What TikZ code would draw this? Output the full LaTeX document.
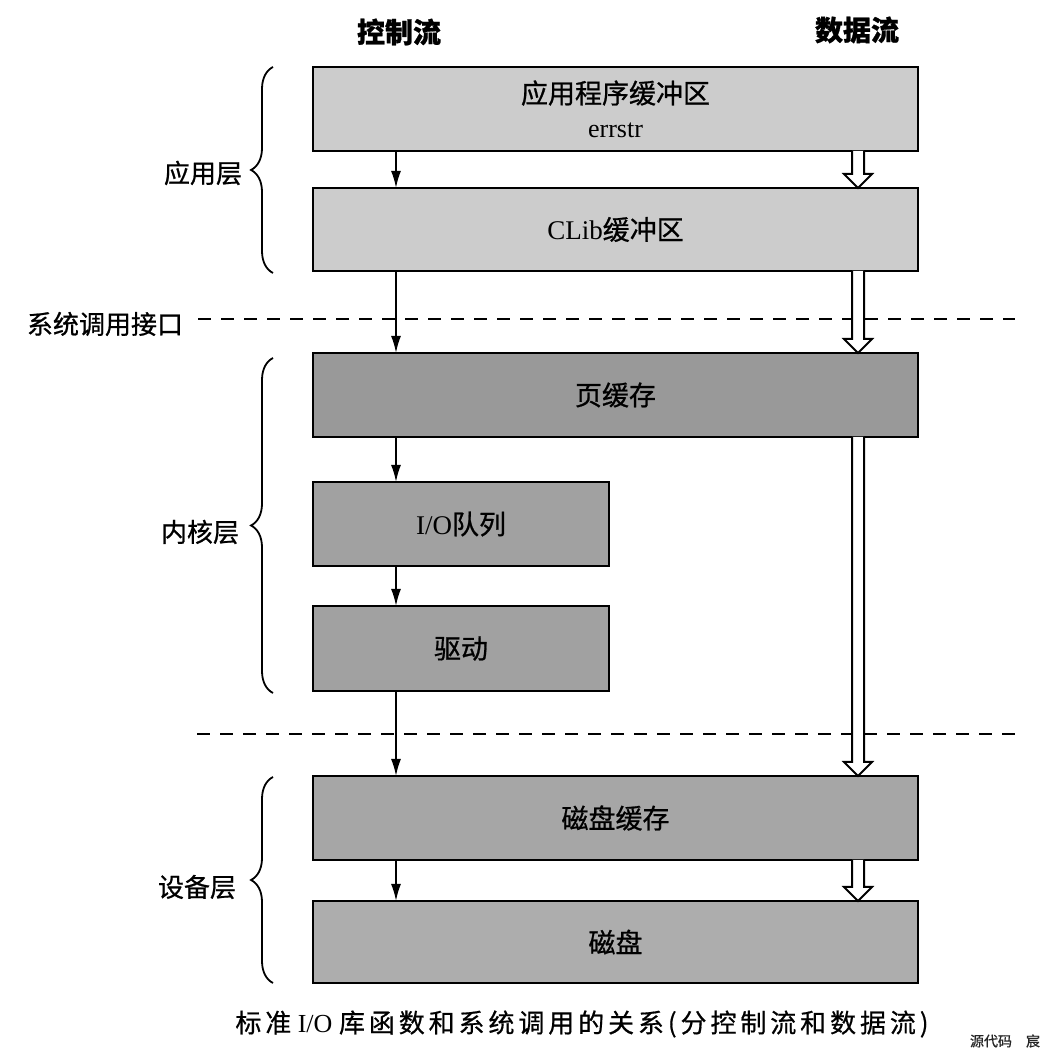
\documentclass[tikz,border=0pt]{standalone}
\usepackage{fontspec}
\setmainfont{Liberation Serif}
\newfontfamily\cjk{Noto Sans CJK SC}[FakeBold=0.8]
\newfontfamily\capfont{Noto Sans CJK SC}[LetterSpace=15,FakeBold=0.6]
\usetikzlibrary{arrows.meta,calc,decorations.pathreplacing}
\definecolor{boxA}{gray}{0.80}
\definecolor{boxB}{gray}{0.60}
\definecolor{boxC}{gray}{0.63}
\definecolor{boxD}{gray}{0.65}
\definecolor{boxE}{gray}{0.68}
\newcommand\dataflow[2]{%
  \draw[dataarr] ($(#1.south -| dx)+(-6,0)$) -- ($(#2.north -| dx)+(-6,14)$)
    -- ($(#2.north -| dx)+(-14,14)$) -- (#2.north -| dx)
    -- ($(#2.north -| dx)+(14,14)$) -- ($(#2.north -| dx)+(6,14)$)
    -- ($(#1.south -| dx)+(6,0)$);}
\begin{document}
\begin{tikzpicture}[x=1pt,y=1pt,
  box/.style={draw=black, line width=2.4pt, inner sep=0pt, outer sep=0pt,
    minimum height=84pt, align=center, font=\fontsize{27}{34}\selectfont},
  wide/.style={minimum width=605pt},
  narrow/.style={minimum width=296pt},
  ctl/.style={line width=1.8pt, -{Latex[length=17pt,width=10pt]}},
  dataarr/.style={draw=black, line width=2pt, fill=white, line join=miter},
  sepline/.style={line width=1.8pt, dash pattern=on 13pt off 10pt},
  layerbrace/.style={line width=1.8pt, decorate, decoration={brace, amplitude=22pt}},
  lbl/.style={font=\fontsize{26}{30}\selectfont\cjk},
  hdr/.style={font=\fontsize{28}{30}\selectfont\cjk\bfseries},
]
\useasboundingbox (0,0) rectangle (1056,1059);
\fill[white] (0,0) rectangle (1056,1059);

% coordinates of the two flow columns
\coordinate (cx) at (396,0);
\coordinate (dx) at (858,0);

% headers
\node[hdr] (hctl) at (399,1027) {控制流};
\node[hdr] (hdat) at (857,1029) {数据流};

% separators
\coordinate (s1l) at (198,740);
\coordinate (s1r) at (1015,740);
\coordinate (s2l) at (197,325);
\coordinate (s2r) at (1015,325);
\draw[sepline] (s1l) -- (s1r);
\draw[sepline] (s2l) -- (s2r);
\node[lbl] (s1lab) at (105,735) {系统调用接口};

% boxes
\node[box, wide, fill=boxA] (b1) at (615.5,950) {{\cjk 应用程序缓冲区}\\{\fontsize{26}{34}\selectfont errstr}};
\node[box, wide, fill=boxA, minimum height=83pt] (b2) at (615.5,829.5) {CLib{\cjk 缓冲区}};
\node[box, wide, fill=boxB] (b3) at (615.5,664) {\cjk 页缓存};
\node[box, narrow, fill=boxC] (b4) at (461,535) {I/O{\cjk 队列}};
\node[box, narrow, fill=boxC, minimum height=85pt] (b5) at (461,410.5) {\cjk 驱动};
\node[box, wide, fill=boxD] (b6) at (615.5,241) {\cjk 磁盘缓存};
\node[box, wide, fill=boxE, minimum height=82pt] (b7) at (615.5,117) {\cjk 磁盘};

% control flow
\draw[ctl] (b1.south -| cx) -- (b2.north -| cx);
\draw[ctl] (b2.south -| cx) -- (b3.north -| cx);
\draw[ctl] (b3.south -| cx) -- (b4.north -| cx);
\draw[ctl] (b4.south -| cx) -- (b5.north -| cx);
\draw[ctl] (b5.south -| cx) -- (b6.north -| cx);
\draw[ctl] (b6.south -| cx) -- (b7.north -| cx);

% data flow
\dataflow{b1}{b2}
\dataflow{b2}{b3}
\dataflow{b3}{b6}
\dataflow{b6}{b7}

% layer braces
\coordinate (br1b) at (273,786);
\coordinate (br1t) at (273,992);
\coordinate (br2b) at (273,366);
\coordinate (br2t) at (273,701);
\coordinate (br3b) at (273,76);
\coordinate (br3t) at (273,282);
\draw[layerbrace] (br1b) -- (br1t);
\draw[layerbrace] (br2b) -- (br2t);
\draw[layerbrace] (br3b) -- (br3t);
\node[lbl] (l1) at (203,886) {应用层};
\node[lbl] (l2) at (200,527) {内核层};
\node[lbl] (l3) at (197,172) {设备层};

% caption and mark
\node[font=\fontsize{26}{28}\selectfont] (cap) at (582,35) {{\capfont 标准} I/O {\capfont 库函数和系统调用的关系(分控制流和数据流)}};
\node[font=\fontsize{14}{16}\selectfont\cjk, text=black!85] (wm) at (1005,18) {源代码\quad 宸};
\end{tikzpicture}
\end{document}
